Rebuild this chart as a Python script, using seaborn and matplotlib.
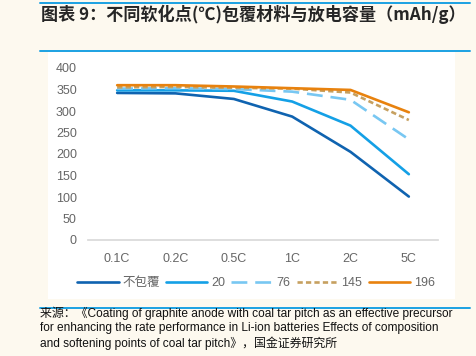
"""Discharge capacity vs rate for pitch coatings with different softening points."""
import matplotlib.pyplot as plt
import matplotlib.ticker as tck
import matplotlib.lines as mlines
import pandas as pd
import seaborn as sns

rates = ["0.1C", "0.2C", "0.5C", "1C", "2C", "5C"]
series_names = ["不包覆", "20", "76", "145", "196"]
uncoated = [342, 341, 328, 287, 205, 101]
sp_20 = [348, 348, 347, 322, 266, 153]
sp_76 = [352, 353, 351, 345, 326, 234]
sp_145 = [355, 356, 354, 352, 343, 279]
sp_196 = [360, 360, 357, 353, 349, 297]
y_ticks = [0, 50, 100, 150, 200, 250, 300, 350, 400]

title = "图表 9：不同软化点(℃)包覆材料与放电容量（mAh/g）"
source_lines = [
    "来源：《Coating of graphite anode with coal tar pitch as an effective precursor",
    "for enhancing the rate performance in Li-ion batteries Effects of composition",
    "and softening points of coal tar pitch》，国金证券研究所",
]

colors = ["#0F63B0", "#14A0E6", "#78C7F2", "#C6A060", "#E8820E"]
dash_styles = ["", "", (6, 3), (2, 1.2), ""]


def main():
    values = [uncoated, sp_20, sp_76, sp_145, sp_196]
    rows = []
    for name, vals in zip(series_names, values):
        for rate, v in zip(rates, vals):
            rows.append({"rate": rate, "series": name, "capacity": v})
    df = pd.DataFrame(rows)

    sns.set_theme(style="white")
    plt.rcParams["font.family"] = ["Liberation Sans", "Noto Sans CJK SC", "DejaVu Sans"]

    fig = plt.figure(figsize=(4.76, 3.56), dpi=100)
    fig.patch.set_facecolor("#FDF9EF")
    # white panel behind the chart
    panel = fig.add_axes([48 / 476, 1 - 299 / 356, 407 / 476, 247 / 356], zorder=-1)
    panel.set_axis_off()
    panel.add_patch(plt.Rectangle((0, 0), 1, 1, facecolor="white", edgecolor="none",
                                  transform=panel.transAxes))
    # blue rules
    for yy in [3, 51, 308]:
        fig.add_artist(mlines.Line2D([40 / 476, 470 / 476], [1 - yy / 356] * 2,
                                     color="#1BA1E2", lw=1.4, transform=fig.transFigure))

    ax = fig.add_axes([88 / 476, 1 - 240 / 356, 350 / 476, 172 / 356])
    ax.set_facecolor("none")
    sns.lineplot(data=df, x="rate", y="capacity", hue="series", style="series",
                 hue_order=series_names, style_order=series_names,
                 palette=dict(zip(series_names, colors)),
                 dashes=dict(zip(series_names, dash_styles)),
                 linewidth=1.9, ax=ax, sort=False)

    ax.set_xlim(-0.5, 5.5)
    ax.set_ylim(0, 400)
    ax.set_yticks(y_ticks)
    ax.set_xlabel("")
    ax.set_ylabel("")
    for side in ["top", "right", "left"]:
        ax.spines[side].set_visible(False)
    ax.spines["bottom"].set_color("#D9D9D9")
    ax.xaxis.set_minor_locator(tck.FixedLocator([i - 0.5 for i in range(len(rates) + 1)]))
    ax.tick_params(axis="x", which="major", length=0, pad=9, labelsize=9, labelcolor="#666666")
    ax.tick_params(axis="x", which="minor", length=4, direction="in", color="#D9D9D9")
    ax.tick_params(axis="y", length=0, pad=8, labelsize=9, labelcolor="#666666")

    leg = ax.legend(loc="center", bbox_to_anchor=(0.48, -0.25), ncol=5, frameon=False,
                    fontsize=9, handlelength=3.3, handletextpad=0.3, columnspacing=0.5)
    for t in leg.get_texts():
        t.set_color("#666666")

    fig.text(41 / 476, 1 - 14 / 356, title, fontsize=12.3, fontweight="bold",
             family=["Noto Sans CJK SC", "DejaVu Sans"], va="center", ha="left")
    for i, line in enumerate(source_lines):
        fig.text(40 / 476, 1 - (313 + 15 * i) / 356, line, fontsize=8.6,
                 va="center", ha="left", color="#111111")

    fig.savefig("out.png", dpi=100, facecolor=fig.get_facecolor())


if __name__ == "__main__":
    main()
